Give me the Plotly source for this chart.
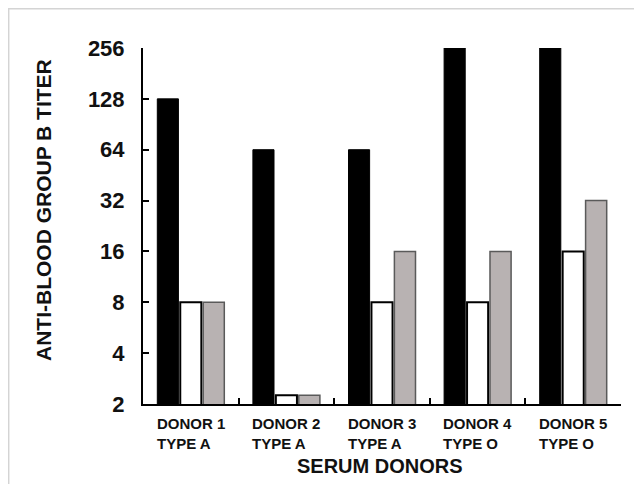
import plotly.graph_objects as go

categories = ["DONOR 1", "DONOR 2", "DONOR 3", "DONOR 4", "DONOR 5"]
donor_types = ["TYPE A", "TYPE A", "TYPE A", "TYPE O", "TYPE O"]
series_black = [128, 64, 64, 256, 256]
series_white = [8, 2.25, 8, 8, 16]
series_gray = [8, 2.25, 16, 16, 32]
y_ticks = [2, 4, 8, 16, 32, 64, 128, 256]
y_tick_labels = ["2", "4", "8", "16", "32", "64", "128", "256"]

FONT = "Liberation Sans, Arial, sans-serif"

fig = go.Figure()
fig.add_trace(go.Bar(x=categories, y=series_black, name="A",
                     marker=dict(color="#000000", line=dict(color="#000000", width=1))))
fig.add_trace(go.Bar(x=categories, y=series_white, name="B",
                     marker=dict(color="#ffffff", line=dict(color="#000000", width=2))))
fig.add_trace(go.Bar(x=categories, y=series_gray, name="C",
                     marker=dict(color="#b8b2b2", line=dict(color="#5a5a5a", width=1.5))))

OFF = 8  # page body margin
W, H = 634, 476
L, R, T, B = 135, 21, 40, 80
pw, ph = W - L - R, H - T - B

def px(xw):
    return (xw - OFF - L) / pw

def py(yw):
    return (H - B - (yw - OFF)) / ph

annotations = []
for c, t in zip(categories, donor_types):
    annotations.append(dict(
        x=c, y=py(413), xref="x", yref="paper", xanchor="center", yanchor="top",
        text=f"{c}<br>{t}", showarrow=False, align="left",
        font=dict(family=FONT, size=15, color="#111", weight="bold")))

annotations.append(dict(
    x=px(380), y=py(466), xref="paper", yref="paper", xanchor="center", yanchor="middle",
    text="SERUM DONORS", showarrow=False,
    font=dict(family=FONT, size=20, color="#111", weight="bold")))
annotations.append(dict(
    x=px(43), y=py(210), xref="paper", yref="paper", xanchor="center", yanchor="middle",
    text="ANTI-BLOOD GROUP B TITER", showarrow=False, textangle=-90,
    font=dict(family=FONT, size=21, color="#111", weight="bold")))

shapes = [
    dict(type="line", xref="paper", yref="paper", x0=px(8), x1=px(700), y0=py(8.7), y1=py(8.7),
         line=dict(color="#d4d4d4", width=1.5)),
    dict(type="line", xref="paper", yref="paper", x0=px(8.7), x1=px(8.7), y0=py(8), y1=py(520),
         line=dict(color="#d4d4d4", width=1.5)),
]

fig.update_layout(
    width=W, height=H,
    margin=dict(l=L, r=R, t=T, b=B, pad=0),
    paper_bgcolor="white", plot_bgcolor="white",
    barmode="group", bargap=0.28, bargroupgap=0.08,
    showlegend=False,
    annotations=annotations,
    shapes=shapes,
    xaxis=dict(
        type="category", showline=True, linecolor="#000", linewidth=2,
        tickson="boundaries", ticks="inside", ticklen=6, tickwidth=2, tickcolor="#000",
        showticklabels=False, showgrid=False, zeroline=False,
    ),
    yaxis=dict(
        type="log", range=[0.30103, 2.40824],
        tickvals=y_ticks, ticktext=y_tick_labels,
        showline=True, linecolor="#000", linewidth=2,
        ticks="inside", ticklen=6, tickwidth=2, tickcolor="#000",
        ticklabelstandoff=12,
        tickfont=dict(family=FONT, size=22, color="#111", weight="bold"),
        showgrid=False, zeroline=False,
    ),
)

fig.write_html("out.html")
